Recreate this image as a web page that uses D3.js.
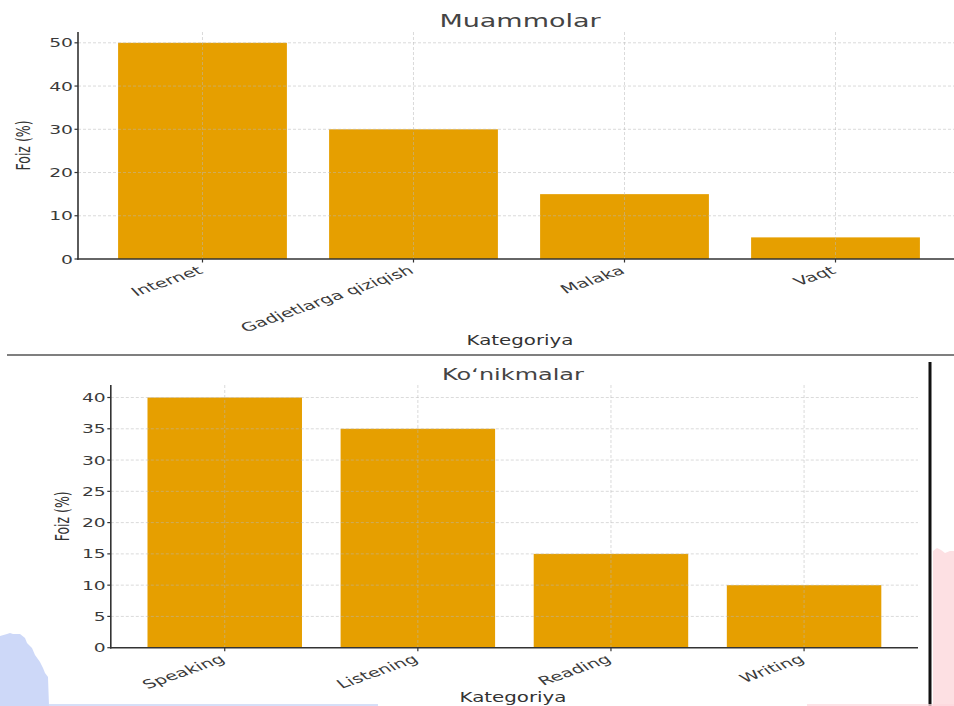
<!DOCTYPE html>
<html>
  <head>
    <meta charset="utf-8">
    <title>Muammolar / Ko'nikmalar</title>
    <script src="https://d3js.org/d3.v7.min.js"></script>
    <style>
      body { margin: 0; background: #fff; }
      text { font-family: "DejaVu Sans", sans-serif; fill: #3a3a3a; }
      .grid line { stroke: #b8b8b8; stroke-width: 1; stroke-dasharray: 3,2; opacity: 0.5; }
      .spine { stroke: #333; stroke-width: 1.6; }
      .tick-mark { stroke: #333; stroke-width: 1.2; }
      .title { font-size: 18px; fill: #444; text-anchor: middle; }
      .axis-label { font-size: 13.2px; fill: #333; text-anchor: middle; }
      .tick-label { font-size: 12.5px; }
    </style>
  </head>
  <body>
    <svg width="954" height="706"></svg>
    <script>
      // chart values
      const problemCategories = ["Internet", "Gadjetlarga qiziqish", "Malaka", "Vaqt"];
      const problemValues = [50, 30, 15, 5];
      const problemTicks = [0, 10, 20, 30, 40, 50];

      const skillCategories = ["Speaking", "Listening", "Reading", "Writing"];
      const skillValues = [40, 35, 15, 10];
      const skillTicks = [0, 5, 10, 15, 20, 25, 30, 35, 40];

      const barColor = "#E69F00";
      const stretch = 1.5;     // the picture is stretched sideways
      const xLabelStretch = 1.64;

      const svg = d3.select("svg");
      svg.append("rect").attr("width", 954).attr("height", 706).attr("fill", "#fff");

      function renderChart(opts){
        const {categories, values, ticks, title, left, right, top, bottom,
               titleX, titleY, xLabelY, yLabelX, titleSize} = opts;
        const g = svg.append("g");

        const xScale = d3.scaleBand()
          .domain(categories)
          .range([left, right])
          .paddingInner(0.2)
          .paddingOuter(0.19);
        const yScale = d3.scaleLinear()
          .domain([0, d3.max(values) * 1.05])
          .range([bottom, top]);
        const xCenter = d => xScale(d) + xScale.bandwidth() / 2;

        // bars
        g.selectAll(".bar")
          .data(values)
          .join("rect")
            .attr("class", "bar")
            .attr("x", (d, i) => xScale(categories[i]))
            .attr("width", xScale.bandwidth())
            .attr("y", d => yScale(d))
            .attr("height", d => yScale(0) - yScale(d))
            .attr("fill", barColor);

        // grid (drawn over bars, as matplotlib does)
        const grid = g.append("g").attr("class", "grid");
        grid.selectAll(".h")
          .data(ticks.filter(d => d > 0))
          .join("line")
            .attr("x1", left).attr("x2", right)
            .attr("y1", d => yScale(d)).attr("y2", d => yScale(d));
        grid.selectAll(".v")
          .data(categories)
          .join("line")
            .attr("x1", xCenter).attr("x2", xCenter)
            .attr("y1", top).attr("y2", bottom);

        // spines
        g.append("line").attr("class", "spine")
          .attr("x1", left).attr("x2", left).attr("y1", top).attr("y2", bottom + 0.8);
        g.append("line").attr("class", "spine")
          .attr("x1", left - 0.8).attr("x2", right).attr("y1", bottom).attr("y2", bottom);

        // y ticks
        const yTick = g.selectAll(".ytick")
          .data(ticks)
          .join("g")
            .attr("transform", d => `translate(${left}, ${yScale(d)})`);
        yTick.append("line").attr("class", "tick-mark").attr("x1", -3.5).attr("x2", 0);
        yTick.append("text")
          .attr("class", "tick-label")
          .attr("transform", `translate(-5, 0) scale(${stretch}, 1)`)
          .attr("text-anchor", "end")
          .attr("dy", "0.36em")
          .text(d => d);

        // x ticks
        const xTick = g.selectAll(".xtick")
          .data(categories)
          .join("g")
            .attr("transform", d => `translate(${xCenter(d)}, ${bottom})`);
        xTick.append("line").attr("class", "tick-mark").attr("y1", 0).attr("y2", 3.5);
        xTick.append("text")
          .attr("class", "tick-label")
          .style("font-size", "12px")
          .attr("transform", `translate(-6, 6) scale(${xLabelStretch}, 1) rotate(-30)`)
          .attr("text-anchor", "end")
          .attr("dy", "0.75em")
          .text(d => d);

        // labels
        g.append("text")
          .attr("class", "title")
          .style("font-size", titleSize + "px")
          .attr("transform", `translate(${titleX}, ${titleY}) scale(${stretch}, 1)`)
          .text(title);
        g.append("text")
          .attr("class", "axis-label")
          .attr("transform", `translate(${titleX}, ${xLabelY}) scale(${stretch}, 1)`)
          .text("Kategoriya");
        g.append("text")
          .attr("class", "axis-label")
          .style("font-size", "12.5px")
          .attr("transform", `translate(${yLabelX}, ${(top + bottom) / 2}) scale(${stretch}, 1) rotate(-90)`)
          .text("Foiz (%)");
      }

      renderChart({
        categories: problemCategories, values: problemValues, ticks: problemTicks,
        title: "Muammolar", left: 78, right: 960, top: 32, bottom: 259,
        titleX: 520, titleY: 27, titleSize: 18, xLabelY: 345, yLabelX: 30
      });

      // divider between the two screenshots
      svg.append("line")
        .attr("x1", 7).attr("x2", 954).attr("y1", 355).attr("y2", 355)
        .attr("stroke", "#555").attr("stroke-width", 1.6);

      renderChart({
        categories: skillCategories, values: skillValues, ticks: skillTicks,
        title: "Koʻnikmalar", left: 110.8, right: 918, top: 385, bottom: 647.7,
        titleX: 513, titleY: 380, titleSize: 16, xLabelY: 702, yLabelX: 69
      });

      // page decorations around the lower screenshot
      svg.append("line")
        .attr("x1", 930).attr("x2", 930).attr("y1", 362).attr("y2", 706)
        .attr("stroke", "#111").attr("stroke-width", 3);
      svg.append("path")
        .attr("d", "M933,551 L937,548 L941,550 L945,553 L950,551 L954,551 L954,706 L933,706 Z")
        .attr("fill", "#fde0e3");
      svg.append("path")
        .attr("d", "M0,636 L7,634 L10,633 L13,634 L20,634 L25,638 L27,643 L32,648 L35,655 L40,662 L43,668 L45,673 L48,677 L49,706 L0,706 Z")
        .attr("fill", "#cdd8f8");
      svg.append("line")
        .attr("x1", 49).attr("x2", 378).attr("y1", 705).attr("y2", 705)
        .attr("stroke", "#c8d4f6").attr("stroke-width", 1.5);
      svg.append("line")
        .attr("x1", 807).attr("x2", 954).attr("y1", 705).attr("y2", 705)
        .attr("stroke", "#fcd9de").attr("stroke-width", 1.5);
    </script>
  </body>
</html>
